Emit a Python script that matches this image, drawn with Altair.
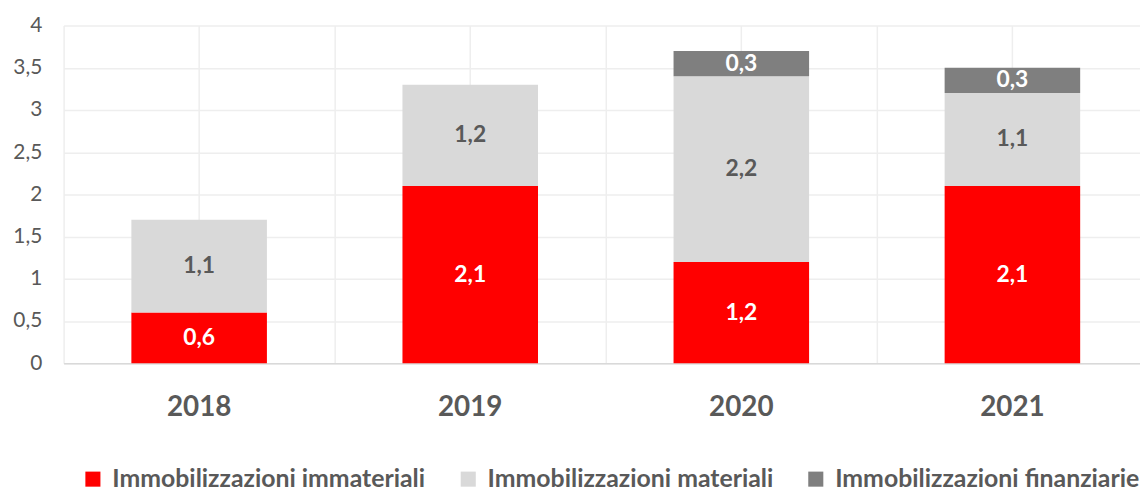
import altair as alt
import pandas as pd

years = ["2018", "2019", "2020", "2021"]
series = ["Immobilizzazioni immateriali", "Immobilizzazioni materiali", "Immobilizzazioni finanziarie"]
immateriali = [0.6, 2.1, 1.2, 2.1]
materiali = [1.1, 1.2, 2.2, 1.1]
finanziarie = [None, None, 0.3, 0.3]
colors = ["#ff0000", "#d9d9d9", "#7f7f7f"]
y_ticks = [0, 0.5, 1, 1.5, 2, 2.5, 3, 3.5, 4]

rows = []
for i, y in enumerate(years):
    for k, vals in enumerate([immateriali, materiali, finanziarie]):
        if vals[i] is not None:
            rows.append({"year": y, "series": series[k], "value": vals[i], "order": k})
df = pd.DataFrame(rows)

FONT = "Lato"
GREY = "#595959"

xscale = alt.Scale(domain=years, paddingInner=0, paddingOuter=0, range=[0, 1092])
yscale = alt.Scale(domain=[0, 4], nice=False)

yaxis = alt.Axis(values=y_ticks, labelExpr="replace(toString(datum.value), '.', ',')",
                 ticks=False, domain=False, labelFont=FONT, labelFontSize=21,
                 labelColor=GREY, labelPadding=22, title=None,
                 gridColor="#eeeeee", gridWidth=1.5)

bars = alt.Chart(df).mark_bar(width=alt.RelativeBandSize(0.5)).encode(
    x=alt.X("year:N", sort=years, scale=xscale, title=None,
            axis=alt.Axis(grid=True, bandPosition=0.5, ticks=False, labelAngle=0,
                          labelFont=FONT, labelFontSize=28, labelFontWeight="bold",
                          labelColor=GREY, labelPadding=31, domain=True,
                          domainColor="#d9d9d9", domainWidth=1.5,
                          gridColor="#eeeeee", gridWidth=1.5)),
    y=alt.Y("value:Q", stack="zero", scale=yscale, title=None, axis=yaxis),
    color=alt.Color("series:N", scale=alt.Scale(domain=series, range=colors),
                    legend=alt.Legend(title=None, orient="none", direction="horizontal",
                                      legendX=17, legendY=444, padding=0,
                                      symbolType="square", symbolSize=230,
                                      symbolStrokeWidth=0, labelOffset=7,
                                      columnPadding=30, labelFont=FONT,
                                      labelFontSize=25, labelFontWeight="bold",
                                      labelColor=GREY, labelLimit=0)),
    order=alt.Order("order:Q"),
)

labels = alt.Chart(df).transform_stack(
    stack="value", as_=["v0", "v1"], groupby=["year"], sort=[alt.SortField("order")]
).transform_calculate(
    mid="(datum.v0 + datum.v1) / 2",
    label="replace(format(datum.value, '.1f'), '.', ',')",
).mark_text(font=FONT, fontSize=23, fontWeight="bold", baseline="middle").encode(
    x=alt.X("year:N", sort=years, scale=xscale, title=None,
            axis=alt.Axis(grid=True, bandPosition=0, labels=False, ticks=False,
                          domain=False, gridColor="#eeeeee", gridWidth=1.5)),
    y=alt.Y("mid:Q", scale=yscale, title=None, axis=yaxis),
    text="label:N",
    color=alt.condition("datum.series == 'Immobilizzazioni materiali'",
                        alt.value(GREY), alt.value("#ffffff")),
)

chart = alt.layer(bars, labels).resolve_axis(x="independent").properties(
    width=1084, height=340,
    autosize=alt.AutoSizeParams(type="none"),
    padding={"left": 56, "top": 16, "right": 0, "bottom": 130},
).configure_view(stroke=None)

chart.save("out.html", embed_options={"renderer": "svg", "actions": False})
